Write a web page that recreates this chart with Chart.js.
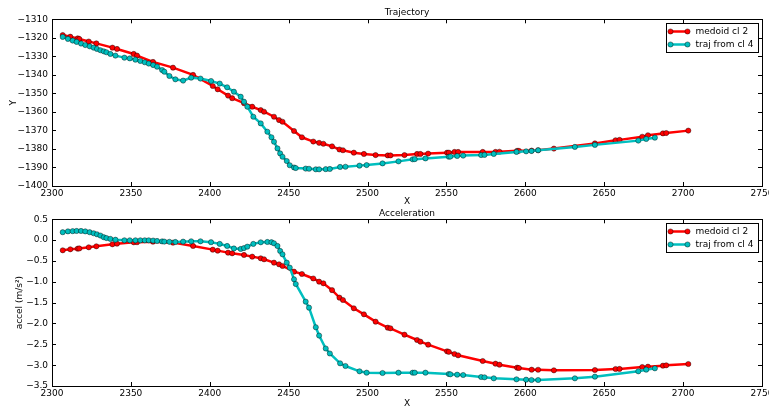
<!DOCTYPE html>
<html>
<head>
<meta charset="utf-8">
<script src="https://cdn.jsdelivr.net/npm/chart.js@4.4.0/dist/chart.umd.min.js"></script>
<style>
  html, body { margin: 0; padding: 0; background: #fff; }
  #wrap { position: relative; width: 769px; height: 406px; overflow: hidden; }
  #wrap canvas { position: absolute; left: 0; top: 0; }
</style>
</head>
<body>
<div id="wrap">
  <canvas id="accel" width="769" height="406"></canvas>
  <canvas id="traj" width="769" height="406"></canvas>
</div>
<script>
// series names
var seriesLabels = ["medoid cl 2", "traj from cl 4"];

// medoid cl 2
var medoidX = [2306.8, 2311.6, 2316.3, 2317.3, 2323.3, 2328.1, 2338.3, 2341.2, 2351.8, 2353.9,
  2364.0, 2376.7, 2389.4, 2401.9, 2405.0, 2411.6, 2414.2, 2421.7, 2426.9, 2432.3,
  2434.4, 2440.7, 2443.9, 2446.1, 2453.4, 2458.4, 2465.6, 2469.3, 2472.0, 2477.5,
  2482.2, 2484.4, 2491.3, 2497.7, 2505.1, 2512.8, 2514.5, 2523.4, 2531.4, 2533.5,
  2538.4, 2550.4, 2551.5, 2555.1, 2557.4, 2573.0, 2581.1, 2583.6, 2594.8, 2595.9,
  2604.0, 2608.1, 2618.1, 2644.1, 2657.2, 2659.7, 2674.1, 2677.7, 2687.2, 2689.3, 2703.3];
var medoidY = [-1318.5, -1319.4, -1320.3, -1320.6, -1322.0, -1323.0, -1325.3, -1326.0, -1328.7, -1329.6,
  -1333.0, -1336.1, -1340.0, -1346.0, -1347.8, -1351.2, -1352.6, -1355.3, -1357.2, -1359.0,
  -1359.9, -1362.6, -1364.4, -1365.3, -1370.3, -1373.7, -1376.0, -1376.7, -1377.2, -1378.6,
  -1380.3, -1380.7, -1382.0, -1382.7, -1383.3, -1383.5, -1383.5, -1383.3, -1382.7, -1382.7,
  -1382.5, -1382.0, -1382.0, -1381.6, -1381.6, -1381.6, -1381.6, -1381.5, -1381.0, -1381.0,
  -1380.9, -1380.7, -1379.8, -1377.0, -1375.3, -1375.1, -1373.4, -1372.6, -1371.6, -1371.4, -1370.1];
var medoidAccel = [-0.244, -0.22, -0.204, -0.2, -0.172, -0.148, -0.1, -0.084, -0.052, -0.05,
  -0.036, -0.06, -0.14, -0.228, -0.252, -0.3, -0.316, -0.356, -0.396, -0.436,
  -0.46, -0.54, -0.58, -0.62, -0.756, -0.812, -0.92, -0.996, -1.036, -1.2,
  -1.38, -1.436, -1.636, -1.78, -1.956, -2.1, -2.116, -2.268, -2.396, -2.436,
  -2.508, -2.668, -2.68, -2.732, -2.764, -2.9, -2.964, -2.988, -3.06, -3.068,
  -3.108, -3.11, -3.124, -3.116, -3.092, -3.09, -3.044, -3.036, -3.012, -3.004, -2.972];

// traj from cl 4
var trajX = [2306.8, 2310.1, 2313.1, 2315.6, 2318.4, 2321.1, 2323.9, 2326.4, 2328.5, 2330.7,
  2332.8, 2334.5, 2337.0, 2340.2, 2345.9, 2349.3, 2352.9, 2356.0, 2358.8, 2361.3,
  2364.1, 2366.6, 2369.8, 2371.2, 2374.4, 2378.2, 2383.1, 2388.2, 2394.1, 2400.8,
  2406.3, 2411.0, 2415.3, 2419.6, 2421.7, 2423.8, 2427.6, 2432.3, 2436.5, 2439.1,
  2440.7, 2442.9, 2444.6, 2446.1, 2448.8, 2450.7, 2453.4, 2454.5, 2460.8, 2462.9,
  2467.2, 2469.3, 2473.5, 2476.1, 2482.6, 2486.0, 2494.9, 2499.4, 2509.5, 2519.6,
  2528.6, 2529.9, 2536.7, 2551.5, 2552.5, 2556.8, 2560.6, 2572.0, 2574.1, 2580.0,
  2594.4, 2600.5, 2603.9, 2608.1, 2631.4, 2644.1, 2671.6, 2676.6, 2682.1];
var trajY = [-1319.5, -1320.6, -1321.5, -1322.2, -1323.1, -1323.9, -1324.6, -1325.3, -1326.0, -1326.7,
  -1327.3, -1327.8, -1328.7, -1329.6, -1330.7, -1331.1, -1331.8, -1332.5, -1333.2, -1333.9,
  -1334.7, -1335.6, -1337.4, -1338.3, -1340.6, -1342.4, -1343.1, -1341.5, -1342.0, -1343.3,
  -1344.7, -1346.7, -1349.1, -1351.8, -1354.5, -1357.2, -1362.6, -1366.2, -1370.7, -1373.7,
  -1376.1, -1379.7, -1382.4, -1384.2, -1386.5, -1388.8, -1390.0, -1390.3, -1390.6, -1390.7,
  -1391.0, -1391.0, -1390.9, -1390.8, -1389.7, -1389.6, -1389.0, -1388.7, -1387.8, -1386.7,
  -1385.6, -1385.5, -1385.1, -1384.2, -1384.1, -1383.8, -1383.6, -1383.3, -1383.2, -1382.7,
  -1381.6, -1381.3, -1381.1, -1380.7, -1378.9, -1377.8, -1375.5, -1374.6, -1373.9];
var trajAccel = [0.19, 0.21, 0.215, 0.22, 0.22, 0.21, 0.19, 0.165, 0.14, 0.11,
  0.07, 0.05, 0.03, 0.01, -0.004, -0.004, -0.004, -0.004, -0.004, -0.004,
  -0.01, -0.02, -0.03, -0.035, -0.04, -0.044, -0.036, -0.028, -0.028, -0.05,
  -0.09, -0.14, -0.2, -0.212, -0.19, -0.156, -0.09, -0.052, -0.044, -0.05,
  -0.076, -0.14, -0.26, -0.34, -0.54, -0.66, -0.94, -1.052, -1.476, -1.62,
  -2.09, -2.29, -2.6, -2.72, -2.956, -3.02, -3.148, -3.18, -3.188, -3.18,
  -3.18, -3.18, -3.18, -3.212, -3.22, -3.228, -3.236, -3.284, -3.292, -3.316,
  -3.34, -3.348, -3.356, -3.356, -3.316, -3.276, -3.148, -3.108, -3.076];

// tick labels
var xTicks = [2300, 2350, 2400, 2450, 2500, 2550, 2600, 2650, 2700, 2750];
var trajYTicks = [-1400, -1390, -1380, -1370, -1360, -1350, -1340, -1330, -1320, -1310];
var accelTicks = [-3.5, -3.0, -2.5, -2.0, -1.5, -1.0, -0.5, 0.0, 0.5];

var RED = "#ff0000";
var CYAN = "#00bfbf";
var FONT = "DejaVu Sans";

Chart.defaults.font.family = FONT;
Chart.defaults.color = "#000";

function minus(s) {
  return s.replace("-", "\u2212");
}

function points(xs, ys) {
  return xs.map(function (x, i) { return { x: x, y: ys[i] }; });
}

// frame round the axes, with matplotlib style inward ticks on all four sides
var mplFrame = {
  id: "mplFrame",
  afterDraw: function (chart) {
    var ctx = chart.ctx, a = chart.chartArea;
    var x = chart.scales.x, y = chart.scales.y;
    ctx.save();
    ctx.strokeStyle = "#000";
    ctx.lineWidth = 1;
    ctx.beginPath();
    x.ticks.forEach(function (t) {
      var px = Math.round(x.getPixelForValue(t.value)) + 0.5;
      ctx.moveTo(px, a.bottom); ctx.lineTo(px, a.bottom - 4);
      ctx.moveTo(px, a.top); ctx.lineTo(px, a.top + 4);
    });
    y.ticks.forEach(function (t) {
      var py = Math.round(y.getPixelForValue(t.value)) + 0.5;
      ctx.moveTo(a.left, py); ctx.lineTo(a.left + 4, py);
      ctx.moveTo(a.right, py); ctx.lineTo(a.right - 4, py);
    });
    ctx.stroke();
    ctx.strokeRect(Math.round(a.left) + 0.5, Math.round(a.top) + 0.5,
      Math.round(a.right - a.left), Math.round(a.bottom - a.top));
    ctx.restore();
  }
};

// legend box in the upper right corner of the axes
var mplLegend = {
  id: "mplLegend",
  afterDraw: function (chart) {
    var ctx = chart.ctx, a = chart.chartArea;
    var sets = chart.data.datasets;
    ctx.save();
    ctx.font = "9px '" + FONT + "'";
    var tw = 0;
    sets.forEach(function (d) { tw = Math.max(tw, ctx.measureText(d.label).width); });
    var w = Math.round(29 + tw + 5), h = 29;
    var x0 = Math.round(a.right - 4 - w) + 0.5, y0 = Math.round(a.top + 4) + 0.5;
    ctx.fillStyle = "#fff";
    ctx.fillRect(x0, y0, w, h);
    ctx.strokeStyle = "#000";
    ctx.lineWidth = 1;
    ctx.strokeRect(x0, y0, w, h);
    sets.forEach(function (d, i) {
      var cy = y0 + 8 + i * 13;
      ctx.strokeStyle = d.borderColor;
      ctx.lineWidth = 2.5;
      ctx.beginPath();
      ctx.moveTo(x0 + 4, cy); ctx.lineTo(x0 + 21, cy);
      ctx.stroke();
      [x0 + 4, x0 + 21].forEach(function (mx) {
        ctx.beginPath();
        ctx.arc(mx, cy, 2.6, 0, Math.PI * 2);
        ctx.fillStyle = d.pointBackgroundColor;
        ctx.fill();
        ctx.lineWidth = 0.6;
        ctx.strokeStyle = "rgba(0,0,0,0.7)";
        ctx.stroke();
      });
      ctx.fillStyle = "#000";
      ctx.textBaseline = "middle";
      ctx.textAlign = "left";
      ctx.fillText(d.label, x0 + 29, cy);
    });
    ctx.restore();
  }
};

function dataset(label, color, pts, order) {
  return {
    label: label,
    data: pts,
    borderColor: color,
    backgroundColor: color,
    borderWidth: 2.5,
    pointRadius: 2.6,
    pointBackgroundColor: color,
    pointBorderColor: "rgba(0,0,0,0.7)",
    pointBorderWidth: 0.6,
    tension: 0,
    fill: false,
    order: order
  };
}

function makeChart(id, opts) {
  return new Chart(document.getElementById(id), {
    type: "line",
    data: {
      datasets: [
        dataset(seriesLabels[0], RED, points(medoidX, opts.medoid), 2),
        dataset(seriesLabels[1], CYAN, points(trajX, opts.traj), 1)
      ]
    },
    options: {
      responsive: false,
      animation: false,
      events: [],
      layout: { padding: opts.padding },
      plugins: {
        legend: { display: false },
        tooltip: { enabled: false },
        title: {
          display: true,
          text: opts.title,
          fullSize: false,
          color: "#000",
          font: { size: 9, weight: "normal" },
          padding: opts.titlePad
        }
      },
      scales: {
        x: {
          type: "linear",
          min: 2300,
          max: 2750,
          grid: { display: false, drawTicks: false },
          border: { display: false },
          afterBuildTicks: function (s) { s.ticks = xTicks.map(function (v) { return { value: v }; }); },
          afterFit: function (s) { s.height = opts.xHeight; s.paddingLeft = 0; s.paddingRight = 0; },
          ticks: {
            autoSkip: false, maxRotation: 0, padding: 2,
            font: { size: 9 },
            callback: function (v) { return String(v); }
          },
          title: {
            display: true, text: "X", color: "#000",
            font: { size: 9 }, padding: { top: 0, bottom: opts.xTitlePad }
          }
        },
        y: {
          type: "linear",
          min: opts.yTicks[0],
          max: opts.yTicks[opts.yTicks.length - 1],
          grid: { display: false, drawTicks: false },
          border: { display: false },
          afterBuildTicks: function (s) { s.ticks = opts.yTicks.map(function (v) { return { value: v }; }); },
          afterFit: function (s) { s.width = 52; s.paddingTop = 0; s.paddingBottom = 0; },
          ticks: {
            autoSkip: false, padding: 4,
            font: { size: 9 },
            callback: opts.yFormat
          },
          title: {
            display: true, text: opts.yTitle, color: "#000",
            font: { size: 9 }, padding: { top: opts.yTitlePad, bottom: 0 }
          }
        }
      }
    },
    plugins: [mplFrame, mplLegend]
  });
}

makeChart("traj", {
  medoid: medoidY,
  traj: trajY,
  title: "Trajectory",
  titlePad: { top: 7, bottom: 1.5 },
  padding: { top: 0, right: 7, left: 0, bottom: 198 },
  xHeight: 22,
  xTitlePad: 0.6,
  yTicks: trajYTicks,
  yTitle: "Y",
  yTitlePad: 8.6,
  yFormat: function (v) { return minus(String(v)); }
});

makeChart("accel", {
  medoid: medoidAccel,
  traj: trajAccel,
  title: "Acceleration",
  titlePad: { top: 3, bottom: 0.5 },
  padding: { top: 205, right: 7, left: 0, bottom: 0 },
  xHeight: 20,
  xTitlePad: -3.4,
  yTicks: accelTicks,
  yTitle: "accel (m/s\u00b2)",
  yTitlePad: 14.6,
  yFormat: function (v) { return minus(Number(v).toFixed(1)); }
});
</script>
</body>
</html>
